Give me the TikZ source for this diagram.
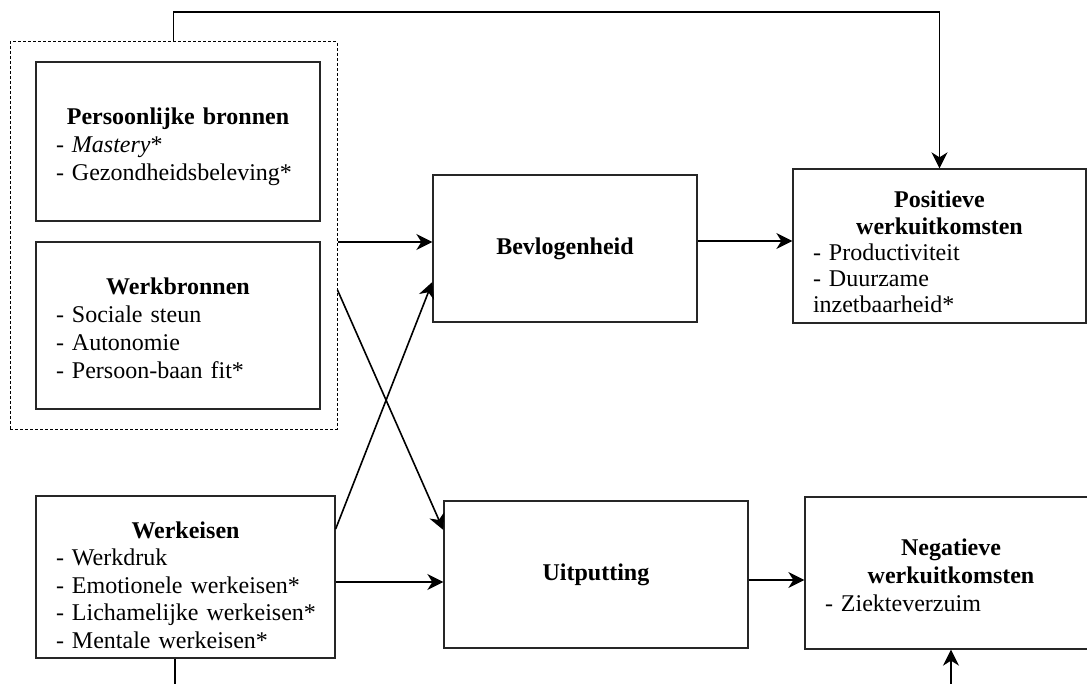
\documentclass[tikz,border=0pt]{standalone}
\usepackage{fontspec}
\setmainfont{Liberation Serif}
\usetikzlibrary{arrows.meta}
\tikzset{
  frame/.style={draw=black!85, line width=0.65pt, inner sep=0pt},
  box/.style={frame, font={\fontsize{12}{14}\selectfont}},
  txt/.style={inner sep=0pt, align=left, font={\fontsize{12}{14}\selectfont}},
  grp/.style={draw, line width=0.5pt, dash pattern=on 1.5pt off 1pt},
  arr/.style={line width=0.8pt, -{Stealth[length=8pt,width=8pt,inset=2.5pt]}},
  ln/.style={line width=0.8pt}
}
\begin{document}
\begin{tikzpicture}[x=0.5pt,y=-0.5pt]
\useasboundingbox (0,0) rectangle (1087,684);
% group of resources
\node[grp, minimum width=163.5pt, minimum height=193.5pt] (grp) at (173.5,235.5) {};
\node[frame, minimum width=142pt, minimum height=79.5pt] (pers) at (178,141.5) {};
\node[txt, text width=122pt] (perst) at ([yshift=-2.5pt]pers.center)
  {\makebox[\linewidth]{\textbf{Persoonlijke bronnen}}\\- \textit{Mastery}*\\\mbox{- Gezondheidsbeleving*}};
\node[frame, minimum width=142pt, minimum height=83.5pt] (werkb) at (178,325.5) {};
\node[txt, text width=122pt] (werkbt) at ([yshift=-1.5pt]werkb.center)
  {\makebox[\linewidth]{\textbf{Werkbronnen}}\\- Sociale steun\\- Autonomie\\- Persoon-baan fit*};
\node[frame, minimum width=149.5pt, minimum height=81pt] (werke) at (185.5,577) {};
\node[txt, text width=129.5pt, font={\fontsize{12}{13.75}\selectfont}] (werket) at ([yshift=-4pt]werke.center)
  {\makebox[\linewidth]{\textbf{Werkeisen}}\\- Werkdruk\\\mbox{- Emotionele werkeisen*}\\\mbox{- Lichamelijke werkeisen*}\\\mbox{- Mentale werkeisen*}};
\node[box, minimum width=132pt, minimum height=73.5pt] (bev) at (565,248.5) {\textbf{Bevlogenheid}};
\node[box, minimum width=152pt, minimum height=73.5pt] (uit) at (596,574.5) {\textbf{Uitputting}};
\node[frame, minimum width=146.5pt, minimum height=77pt] (pos) at (939.5,246) {};
\node[txt, text width=126.5pt, font={\fontsize{12}{13.1}\selectfont}] (post) at ([yshift=-3pt]pos.center)
  {\makebox[\linewidth]{\textbf{Positieve}}\\\makebox[\linewidth]{\textbf{werkuitkomsten}}\\- Productiviteit\\- Duurzame\\inzetbaarheid*};
\node[frame, minimum width=146pt, minimum height=76pt] (neg) at (951,573) {};
\node[txt, text width=126pt] (negt) at ([yshift=-1pt]neg.center)
  {\makebox[\linewidth]{\textbf{Negatieve}}\\\makebox[\linewidth]{\textbf{werkuitkomsten}}\\- Ziekteverzuim};
\coordinate (wbot) at (175,690);
\coordinate (nbot) at (951,690);
% connectors
\draw[arr] (grp.east |- 0,242) -- (bev.west |- 0,242);
\draw[arr] (bev.east |- 0,241) -- (pos.west |- 0,241);
\draw[arr] (grp.north) -- (grp.north |- 0,12) -| (pos.north);
\draw[arr] (grp.east |- 0,290) -- (uit.west |- 0,530);
\draw[arr] (werke.east |- 0,529) -- (bev.west |- 0,282);
\draw[arr] (werke.east |- 0,582) -- (uit.west |- 0,582);
\draw[arr] (uit.east |- 0,580) -- (neg.west |- 0,580);
\draw[ln] (werke.south -| wbot) -- (wbot);
\draw[arr] (nbot) -- (nbot |- neg.south);
\end{tikzpicture}
\end{document}
